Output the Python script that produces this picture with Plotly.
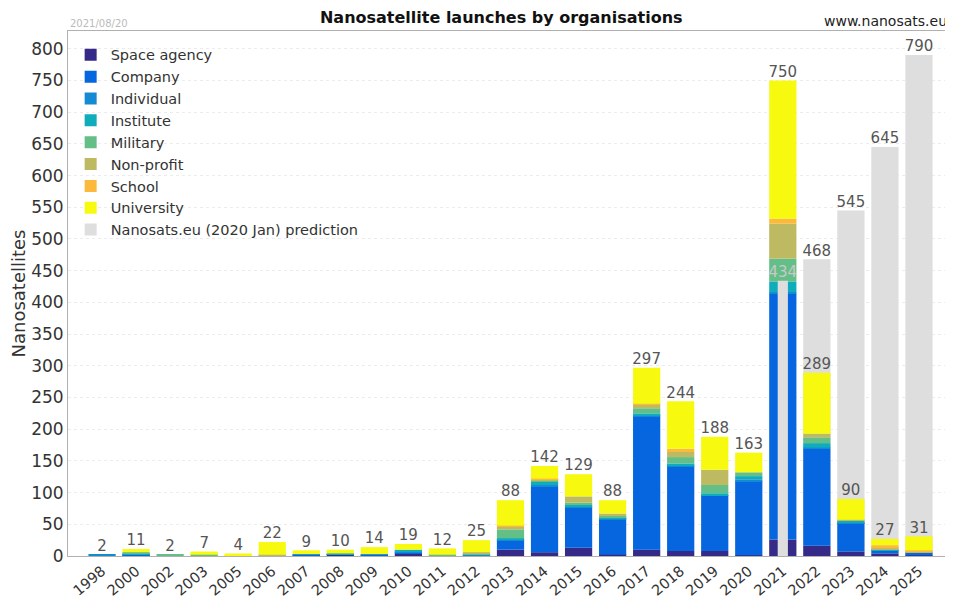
import plotly.graph_objects as go
import numpy as np

years = ["1998","2000","2002","2003","2005","2006","2007","2008","2009","2010","2011","2012",
         "2013","2014","2015","2016","2017","2018","2019","2020","2021","2022","2023","2024","2025"]

space_agency = [0,1,0,0,0,0,1,2,1,4,0,0,10,6,13,2,10,8,8,1,26,16,7,4,1]
company      = [0,1,0,0,0,0,1,1,1,1,0,1,15,103,63,56,210,133,87,117,388,153,45,4,4]
individual   = [2,1,0,0,0,0,1,0,1,2,0,1,1,3,2,1,1,1,1,3,2,2,1,1,0]
institute    = [0,1,0,0,0,0,0,1,0,3,0,1,2,5,3,2,4,4,3,5,17,7,3,2,1]
military     = [0,2,2,2,0,1,0,0,0,0,2,1,14,2,3,2,8,10,13,6,36,9,0,0,0]
nonprofit    = [0,0,0,0,1,1,0,0,0,0,0,2,4,2,10,4,6,8,24,0,55,6,1,3,1]
school       = [0,0,0,0,0,0,0,0,0,0,0,0,2,1,0,0,1,5,0,0,8,0,0,3,2]
university   = [0,5,0,5,3,20,6,6,11,9,10,19,40,20,35,21,57,75,52,31,218,96,33,10,22]

pred_years = ["2021","2022","2023","2024","2025"]
prediction = [434,468,545,645,790]

series = [
    ("Space agency", space_agency, "#352a87"),
    ("Company", company, "#0566e0"),
    ("Individual", individual, "#1489d4"),
    ("Institute", institute, "#0fadbb"),
    ("Military", military, "#64be88"),
    ("Non-profit", nonprofit, "#bdba62"),
    ("School", school, "#fcba3c"),
    ("University", university, "#f7f90f"),
]
PRED_COLOR = "#dedede"
FONT = "DejaVu Sans"

fig = go.Figure()

# wide prediction bars (behind) for future years
fig.add_trace(go.Bar(x=pred_years[1:], y=prediction[1:], width=0.8,
                     marker=dict(color=PRED_COLOR, line=dict(width=0)),
                     name="Nanosats.eu (2020 Jan) prediction", legendrank=9,
                     showlegend=True))

base = np.zeros(len(years))
for i, (name, vals, col) in enumerate(series):
    v = np.array(vals, dtype=float)
    fig.add_trace(go.Bar(x=years, y=v, base=base.copy(), width=0.8, name=name,
                         marker=dict(color=col, line=dict(width=0)), legendrank=i + 1))
    base = base + v
totals = base

# narrow prediction bar drawn in front for current year
fig.add_trace(go.Bar(x=pred_years[:1], y=prediction[:1], width=0.3,
                     marker=dict(color=PRED_COLOR, line=dict(width=0)),
                     showlegend=False))

# total labels
fig.add_trace(go.Scatter(x=years, y=totals, mode="text",
                         text=[str(int(t)) for t in totals], textposition="top center",
                         textfont=dict(family=FONT, size=15, color="#555555"),
                         showlegend=False, hoverinfo="skip"))
# prediction labels
fig.add_trace(go.Scatter(x=pred_years[1:], y=prediction[1:], mode="text",
                         text=[str(p) for p in prediction[1:]], textposition="top center",
                         textfont=dict(family=FONT, size=15, color="#555555"),
                         showlegend=False, hoverinfo="skip"))
fig.add_trace(go.Scatter(x=pred_years[:1], y=prediction[:1], mode="text",
                         text=[str(p) for p in prediction[:1]], textposition="top center",
                         textfont=dict(family=FONT, size=15, color="#c8c8c8"),
                         showlegend=False, hoverinfo="skip"))

# the page has an 8px body margin; size the figure so it fills the 953x602 window
fig.update_layout(
    width=945, height=594,
    margin=dict(l=60, r=0, t=23, b=46),
    barmode="overlay",
    plot_bgcolor="white", paper_bgcolor="white",
    font=dict(family=FONT, size=15, color="#333333"),
    title=dict(text="<b>Nanosatellite launches by organisations</b>", x=0.522, xanchor="center",
               y=0.985, yanchor="middle", font=dict(family=FONT, size=16, color="#111111")),
    legend=dict(x=0.003, y=0.985, xanchor="left", yanchor="top", bgcolor="rgba(0,0,0,0)",
                font=dict(family=FONT, size=14.5, color="#333333"), tracegroupgap=0,
                itemsizing="constant"),
    showlegend=True,
    annotations=[
        dict(text="2021/08/20", xref="paper", yref="paper", x=0, y=1.0, xanchor="left",
             yanchor="bottom", showarrow=False, font=dict(family=FONT, size=10, color="#bbbbbb")),
        dict(text="www.nanosats.eu", xref="paper", yref="paper", x=0.995, y=1.0, xanchor="right",
             yanchor="bottom", showarrow=False, font=dict(family=FONT, size=14, color="#222222")),
    ],
)
fig.update_xaxes(type="category", categoryorder="array", categoryarray=years,
                 range=[-1, 25], tickangle=-40, showline=True, linecolor="#b0b0b0",
                 mirror=True, linewidth=1, ticks="", showgrid=False,
                 tickfont=dict(family=FONT, size=14.5, color="#333333"), automargin=False)
fig.update_yaxes(range=[0, 828], tickvals=list(range(0, 801, 50)), showline=True,
                 linecolor="#b0b0b0", linewidth=1, showgrid=True, gridcolor="#ececec",
                 griddash="dot", zeroline=False, ticks="",
                 tickfont=dict(family=FONT, size=17, color="#333333"),
                 title=dict(text="Nanosatellites", font=dict(family=FONT, size=18, color="#333333"),
                            standoff=10),
                 automargin=False)

fig.write_html("out.html")
